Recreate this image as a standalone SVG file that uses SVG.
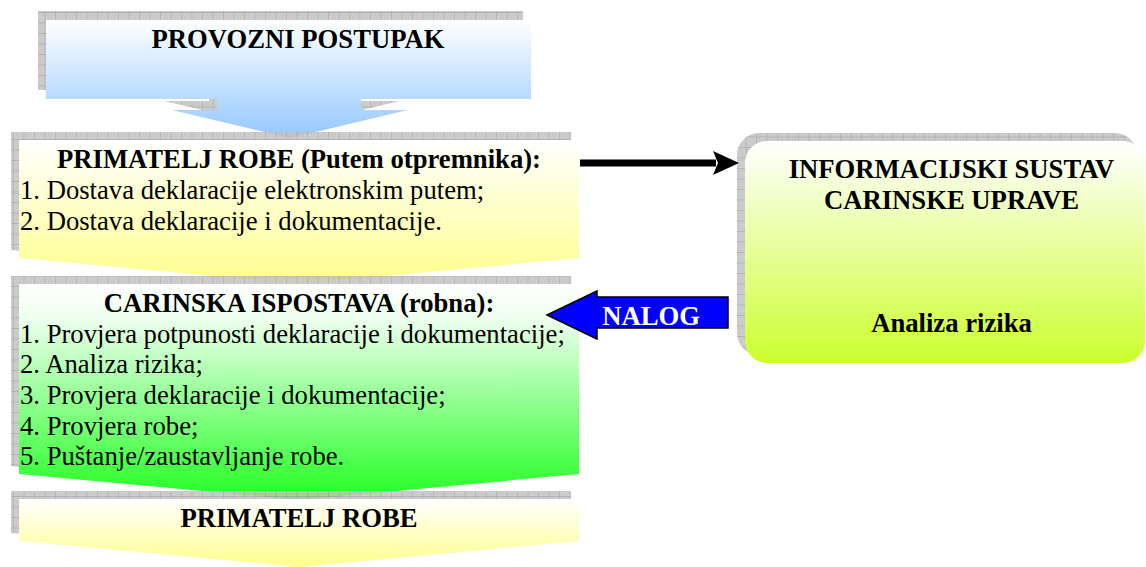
<svg xmlns="http://www.w3.org/2000/svg" width="1146" height="567" viewBox="0 0 1146 567">
<defs>
<pattern id="hatch" width="10.5" height="10.5" patternUnits="userSpaceOnUse">
<rect width="10.5" height="10.5" fill="#c4c4c4"/>
<path d="M0,0H10.5M0,0V10.5" stroke="#9a9a9a" stroke-width="1.2"/>
<path d="M2,3h1M5,3h1M8,3h1M3.5,6h1M6.5,6h1M2,8.5h1M5,8.5h1M8,8.5h1" stroke="#b0b0b0" stroke-width="1"/>
</pattern>
<linearGradient id="gBlue" x1="0" y1="0" x2="0" y2="1">
<stop offset="0" stop-color="#ffffff"/><stop offset="1" stop-color="#94c8ff"/>
</linearGradient>
<linearGradient id="gYellow" x1="0" y1="0" x2="0" y2="1">
<stop offset="0" stop-color="#ffffff"/><stop offset="1" stop-color="#ffff8c"/>
</linearGradient>
<linearGradient id="gGreen" x1="0" y1="0" x2="0" y2="1">
<stop offset="0" stop-color="#ffffff"/><stop offset="0.15" stop-color="#f0fff0"/><stop offset="1" stop-color="#22ff22"/>
</linearGradient>
<linearGradient id="gLime" x1="0" y1="0" x2="0" y2="1">
<stop offset="0" stop-color="#ffffff"/><stop offset="1" stop-color="#ccff2e"/>
</linearGradient>
<marker id="headBlack" markerWidth="8" markerHeight="8" refX="4" refY="4" orient="auto" markerUnits="userSpaceOnUse" viewBox="0 0 8 8">
<path d="M0,0 L8,4 L0,8 Z" fill="#000"/>
</marker>
<style>
.shadow{fill:url(#hatch);opacity:0.85}
.t{font-family:"Liberation Serif","Times New Roman",serif;font-size:26.67px;fill:#000}
.b{font-weight:bold}
.c{text-anchor:middle}
</style>
</defs>

<g id="provozni-postupak">
<path class="shadow" transform="translate(-8,-9)" d="M46,20H531V99H361V110H408L290,138L172,110H217V99H46Z"/>
<path d="M46,20H531V99H361V110H408L290,138L172,110H217V99H46Z" fill="url(#gBlue)"/>
<text class="t b c" x="298" y="48">PROVOZNI POSTUPAK</text>
</g>

<g id="primatelj-otpremnik">
<path class="shadow" transform="translate(-8,-8)" d="M19,140H579V258L299,284L19,258Z" opacity="0.75"/>
<path d="M19,140H579V258L299,284L19,258Z" fill="url(#gYellow)"/>
<text class="t b c" x="299" y="168">PRIMATELJ ROBE (Putem otpremnika):</text>
<text class="t" x="20" y="199">1. Dostava deklaracije elektronskim putem;</text>
<text class="t" x="20" y="230">2. Dostava deklaracije i dokumentacije.</text>
</g>

<g id="carinska-ispostava">
<path class="shadow" transform="translate(-8,-8)" d="M19,284H579V474L299,500L19,474Z" opacity="0.75"/>
<path d="M19,284H579V474L299,500L19,474Z" fill="url(#gGreen)"/>
<text class="t b c" x="299" y="312">CARINSKA ISPOSTAVA (robna):</text>
<text class="t" x="20" y="343">1. Provjera potpunosti deklaracije i dokumentacije;</text>
<text class="t" x="20" y="373">2. Analiza rizika;</text>
<text class="t" x="20" y="404">3. Provjera deklaracije i dokumentacije;</text>
<text class="t" x="20" y="435">4. Provjera robe;</text>
<text class="t" x="20" y="465">5. Puštanje/zaustavljanje robe.</text>
</g>

<g id="primatelj-robe">
<path class="shadow" transform="translate(-8,-8)" d="M19,499H579V541L299,567L19,541Z" opacity="0.75"/>
<path d="M19,499H579V541L299,567L19,541Z" fill="url(#gYellow)"/>
<text class="t b c" x="299" y="527">PRIMATELJ ROBE</text>
</g>

<g id="informacijski-sustav">
<rect class="shadow" x="737" y="133" width="400" height="222" rx="22"/>
<rect x="745" y="141" width="400" height="222" rx="22" fill="url(#gLime)"/>
<text class="t b c" x="951.5" y="178">INFORMACIJSKI SUSTAV</text>
<text class="t b c" x="951.5" y="209">CARINSKE UPRAVE</text>
<text class="t b c" x="951.5" y="332">Analiza rizika</text>
</g>

<g id="connectors">
<path d="M580,163H716" stroke="#000" stroke-width="7" fill="none"/>
<path d="M713,151L739,163L713,175L718,163Z" fill="#000"/>
<path d="M547,315L597,291V297H728V328H597V339Z" fill="#0000ff" stroke="#000" stroke-width="1.5"/>
<text class="t b c" x="651" y="325" fill="#fff" style="fill:#fff">NALOG</text>
</g>
</svg>
